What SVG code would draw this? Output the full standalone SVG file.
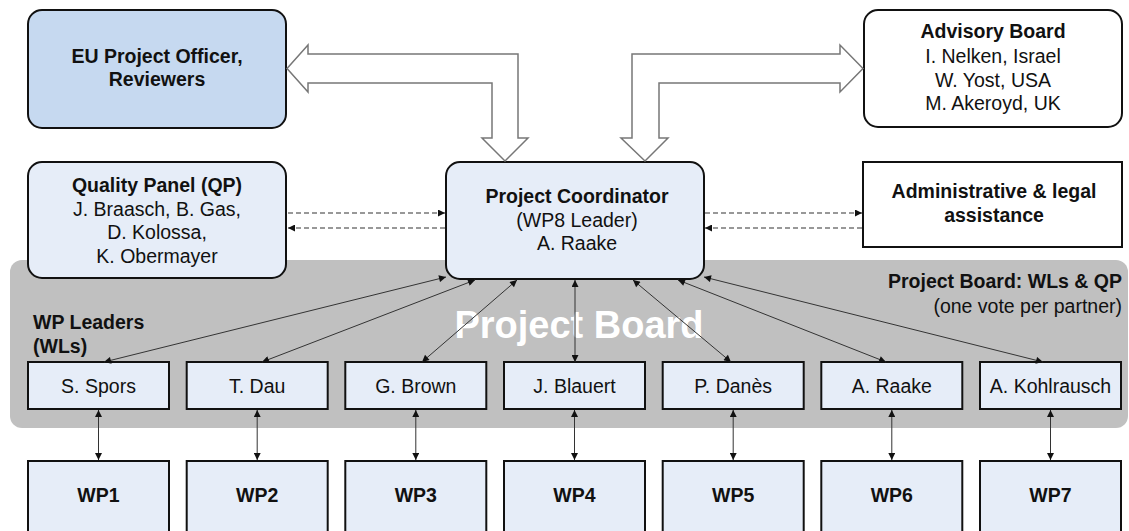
<svg xmlns="http://www.w3.org/2000/svg" width="1129" height="531" viewBox="0 0 1129 531">
<defs>
<marker id="ah" viewBox="0 0 10 10" refX="10" refY="5" markerWidth="9" markerHeight="7" markerUnits="userSpaceOnUse" orient="auto-start-reverse">
<path d="M0,0 L10,5 L0,10 z" fill="#111"/>
</marker>
<style>
text{font-family:"Liberation Sans",Arial,sans-serif;font-size:19.5px;fill:#111;text-anchor:middle}
.b{font-weight:bold}
.rbox{fill:#e6edf8;stroke:#111;stroke-width:2}
.sbox{fill:#e6edf8;stroke:#111;stroke-width:2}
.wbox{fill:#fff;stroke:#111;stroke-width:2}
.con{stroke:#333;stroke-width:1;fill:none}
.dash{stroke:#333;stroke-width:1.2;fill:none;stroke-dasharray:5 3}
.block{fill:#fff;stroke:#777;stroke-width:1.5}
</style>
</defs>
<rect width="1129" height="531" fill="#fff"/>

<g id="project-board-area">
<rect x="10" y="260" width="1118" height="168" rx="12" fill="#c0c0c0"/>
<text x="579" y="338" class="b" style="font-size:38px;fill:#fff">Project Board</text>
<text x="1122" y="288" class="b" style="text-anchor:end">Project Board: WLs &amp; QP</text>
<text x="1122" y="313" style="text-anchor:end">(one vote per partner)</text>
<text x="33" y="329" class="b" style="text-anchor:start">WP Leaders</text>
<text x="33" y="353" class="b" style="text-anchor:start">(WLs)</text>
</g>

<g id="eu">
<rect x="28" y="10" width="258" height="118" rx="14" fill="#c6d9f0" stroke="#111" stroke-width="2"/>
<text x="157" y="63" class="b">EU Project Officer,</text>
<text x="157" y="86" class="b">Reviewers</text>
</g>

<g id="advisory">
<rect x="864" y="10" width="258" height="117" rx="14" class="wbox"/>
<text x="993" y="38" class="b">Advisory Board</text>
<text x="993" y="63">I. Nelken, Israel</text>
<text x="993" y="87">W. Yost, USA</text>
<text x="993" y="110">M. Akeroyd, UK</text>
</g>

<g id="qp">
<rect x="28" y="162" width="258" height="116" rx="14" class="rbox"/>
<text x="157" y="192" class="b">Quality Panel (QP)</text>
<text x="157" y="215.5">J. Braasch, B. Gas,</text>
<text x="157" y="239">D. Kolossa,</text>
<text x="157" y="262.5">K. Obermayer</text>
</g>

<g id="pc">
<rect x="446" y="162" width="258" height="117" rx="14" class="rbox"/>
<text x="577" y="203" class="b">Project Coordinator</text>
<text x="577" y="227">(WP8 Leader)</text>
<text x="577" y="250">A. Raake</text>
</g>

<g id="admin">
<rect x="863" y="162" width="259" height="85" class="wbox"/>
<text x="994" y="198" class="b">Administrative &amp; legal</text>
<text x="994" y="222" class="b">assistance</text>
</g>

<g id="leaders">
<g id="l1"><rect x="28" y="362" width="141" height="47" class="sbox"/><text x="98.5" y="393">S. Spors</text></g>
<g id="l2"><rect x="186.7" y="362" width="141" height="47" class="sbox"/><text x="257.2" y="393">T. Dau</text></g>
<g id="l3"><rect x="345.3" y="362" width="141" height="47" class="sbox"/><text x="415.8" y="393">G. Brown</text></g>
<g id="l4"><rect x="504" y="362" width="141" height="47" class="sbox"/><text x="574.5" y="393">J. Blauert</text></g>
<g id="l5"><rect x="662.7" y="362" width="141" height="47" class="sbox"/><text x="733.2" y="393">P. Danès</text></g>
<g id="l6"><rect x="821.3" y="362" width="141" height="47" class="sbox"/><text x="891.8" y="393">A. Raake</text></g>
<g id="l7"><rect x="980" y="362" width="141" height="47" class="sbox"/><text x="1050.5" y="393">A. Kohlrausch</text></g>
</g>

<g id="wps">
<g id="wp1"><rect x="28" y="461" width="141" height="80" class="sbox"/><text x="98.5" y="502" class="b">WP1</text></g>
<g id="wp2"><rect x="186.7" y="461" width="141" height="80" class="sbox"/><text x="257.2" y="502" class="b">WP2</text></g>
<g id="wp3"><rect x="345.3" y="461" width="141" height="80" class="sbox"/><text x="415.8" y="502" class="b">WP3</text></g>
<g id="wp4"><rect x="504" y="461" width="141" height="80" class="sbox"/><text x="574.5" y="502" class="b">WP4</text></g>
<g id="wp5"><rect x="662.7" y="461" width="141" height="80" class="sbox"/><text x="733.2" y="502" class="b">WP5</text></g>
<g id="wp6"><rect x="821.3" y="461" width="141" height="80" class="sbox"/><text x="891.8" y="502" class="b">WP6</text></g>
<g id="wp7"><rect x="980" y="461" width="141" height="80" class="sbox"/><text x="1050.5" y="502" class="b">WP7</text></g>
</g>

<g id="connectors">
<polygon class="block" points="287,68.5 308,45 308,54 518,54 518,138 528,138 505,161 482,138 492,138 492,83 308,83 308,92"/>
<polygon class="block" points="863,68.5 840,45 840,54 632,54 632,138 621,138 645,161 668,138 659,138 659,83 840,83 840,92"/>

<line class="dash" x1="288" y1="213" x2="445" y2="213" marker-end="url(#ah)"/>
<line class="dash" x1="445" y1="228" x2="288" y2="228" marker-end="url(#ah)"/>
<line class="dash" x1="705" y1="213" x2="862" y2="213" marker-end="url(#ah)"/>
<line class="dash" x1="862" y1="228" x2="705" y2="228" marker-end="url(#ah)"/>

<line class="con" x1="446" y1="277" x2="104" y2="362" marker-start="url(#ah)" marker-end="url(#ah)"/>
<line class="con" x1="475" y1="280" x2="262" y2="362" marker-start="url(#ah)" marker-end="url(#ah)"/>
<line class="con" x1="517" y1="280" x2="422" y2="362" marker-start="url(#ah)" marker-end="url(#ah)"/>
<line class="con" x1="575" y1="280" x2="575" y2="362" marker-start="url(#ah)" marker-end="url(#ah)"/>
<line class="con" x1="633" y1="280" x2="731" y2="362" marker-start="url(#ah)" marker-end="url(#ah)"/>
<line class="con" x1="678" y1="280" x2="886" y2="362" marker-start="url(#ah)" marker-end="url(#ah)"/>
<line class="con" x1="704" y1="277" x2="1043" y2="362" marker-start="url(#ah)" marker-end="url(#ah)"/>

<line class="con" x1="98.5" y1="410" x2="98.5" y2="460" marker-start="url(#ah)" marker-end="url(#ah)"/>
<line class="con" x1="257.2" y1="410" x2="257.2" y2="460" marker-start="url(#ah)" marker-end="url(#ah)"/>
<line class="con" x1="415.8" y1="410" x2="415.8" y2="460" marker-start="url(#ah)" marker-end="url(#ah)"/>
<line class="con" x1="574.5" y1="410" x2="574.5" y2="460" marker-start="url(#ah)" marker-end="url(#ah)"/>
<line class="con" x1="733.2" y1="410" x2="733.2" y2="460" marker-start="url(#ah)" marker-end="url(#ah)"/>
<line class="con" x1="891.8" y1="410" x2="891.8" y2="460" marker-start="url(#ah)" marker-end="url(#ah)"/>
<line class="con" x1="1050.5" y1="410" x2="1050.5" y2="460" marker-start="url(#ah)" marker-end="url(#ah)"/>
</g>
</svg>
